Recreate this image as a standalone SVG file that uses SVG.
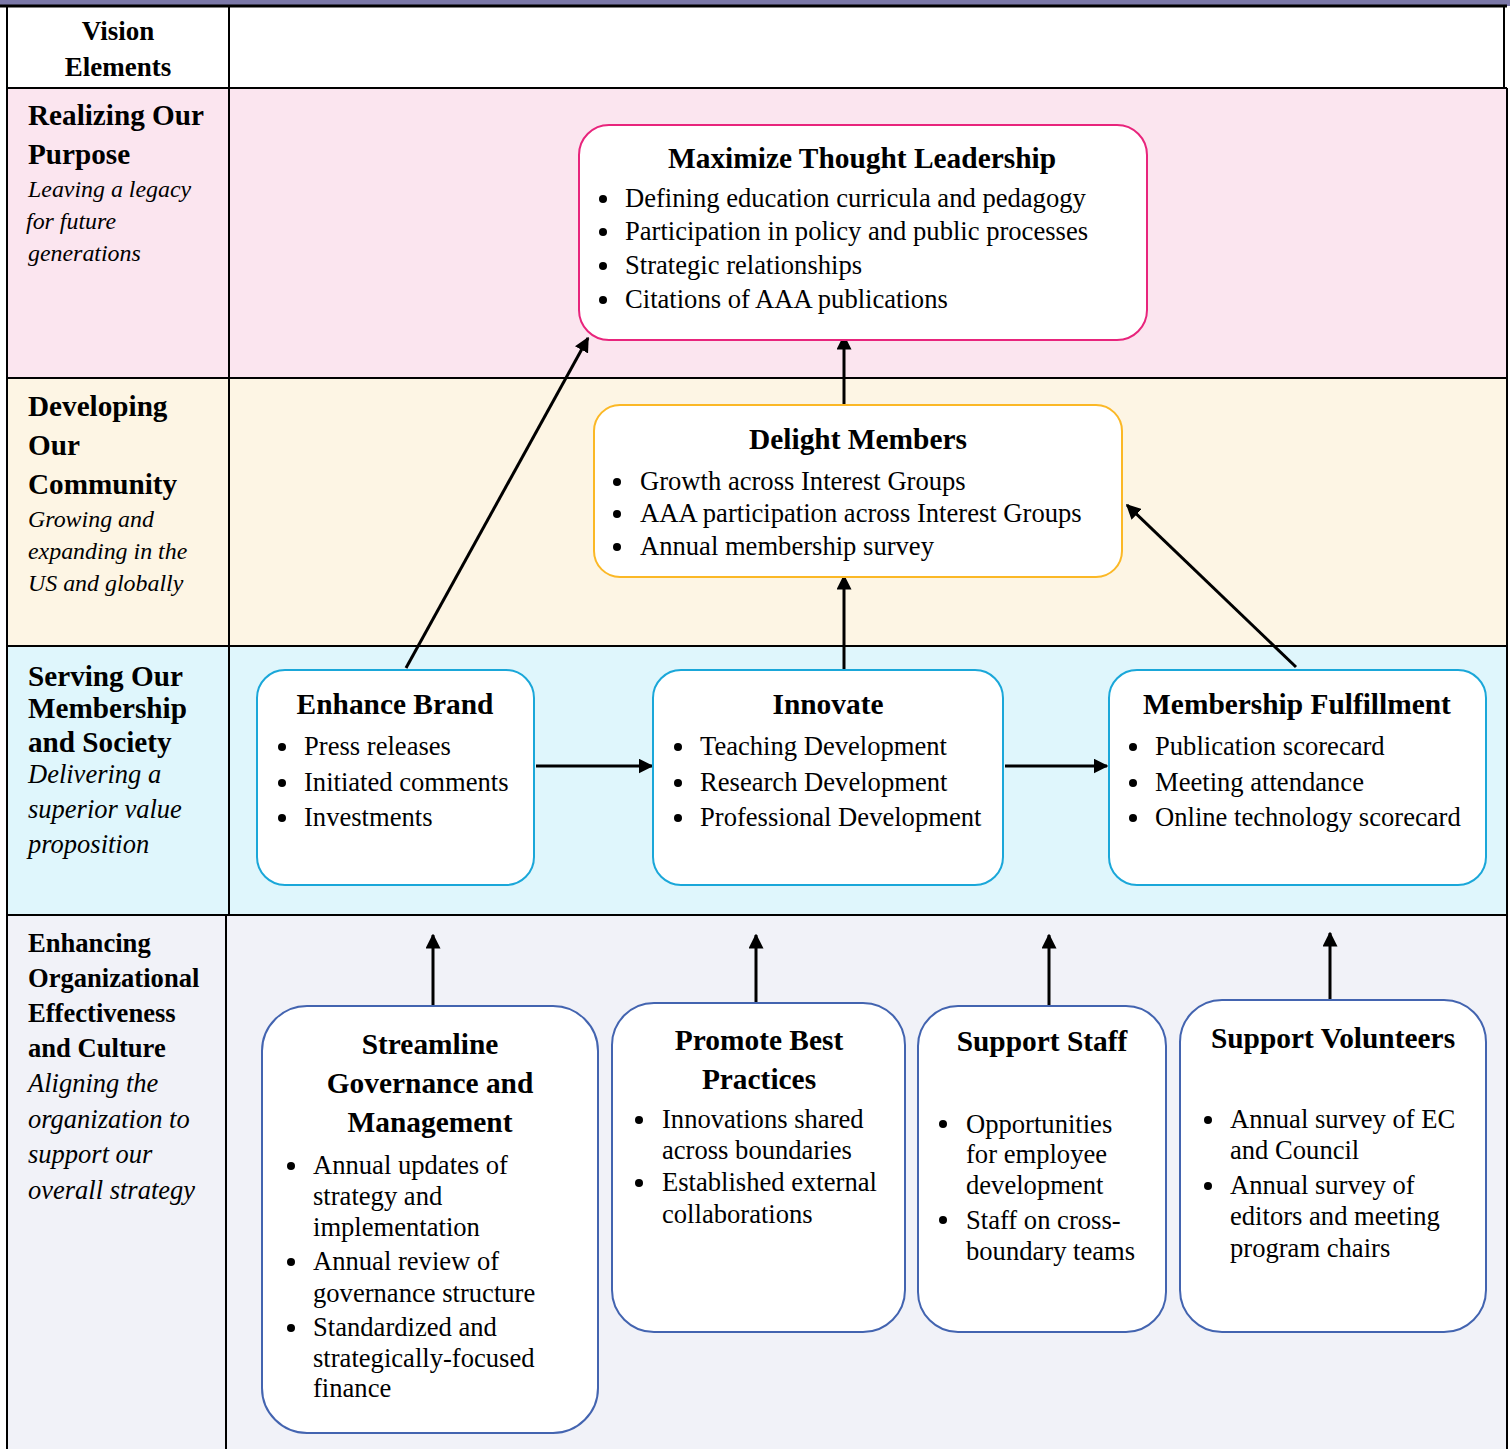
<svg xmlns="http://www.w3.org/2000/svg" width="1510" height="1449" viewBox="0 0 1510 1449">
<defs>
<marker id="ah" viewBox="0 0 10 10" refX="9" refY="5" markerWidth="5" markerHeight="5" orient="auto" markerUnits="strokeWidth">
<path d="M0,0 L10,5 L0,10 Z" fill="#000"/>
</marker>
<style>
text{font-family:"Liberation Serif","Times New Roman",serif;fill:#000}
.hd{font-weight:bold;font-size:27px}
.lt{font-weight:bold;font-size:29.2px}
.lt4{font-weight:bold;font-size:26.6px}
.li{font-style:italic;font-size:23.9px}
.li4{font-style:italic;font-size:26.5px}
.ttl{font-weight:bold;font-size:29.4px;text-anchor:middle}
.b{font-size:26.6px}
.grid{stroke:#000;stroke-width:2;fill:none}
.n1{fill:#fff;stroke:#e8247c;stroke-width:2}
.n2{fill:#fff;stroke:#fbb826;stroke-width:2}
.n3{fill:#fff;stroke:#1aa7d9;stroke-width:2}
.n4{fill:#fff;stroke:#4364b0;stroke-width:2}
.c{stroke:#000;stroke-width:3;fill:none;marker-end:url(#ah)}
</style>
</defs>
<g id="background">
<rect x="0" y="0" width="1510" height="6" fill="#7b78a8"/>
<rect x="7" y="6" width="1497" height="82" fill="#fff"/>
<rect x="7" y="88" width="1500" height="290" fill="#fbe5ef"/>
<rect x="7" y="378" width="1500" height="268" fill="#fdf5e4"/>
<rect x="7" y="646" width="1500" height="269" fill="#dff6fc"/>
<rect x="7" y="915" width="1500" height="534" fill="#f1f2f8"/>
<line x1="0" y1="6" x2="1507" y2="6" stroke="#000" stroke-width="3"/>
<line x1="7" y1="6" x2="7" y2="1449" class="grid"/>
<line x1="1504" y1="6" x2="1504" y2="88" class="grid"/>
<line x1="1507" y1="88" x2="1507" y2="1449" class="grid"/>
<line x1="7" y1="88" x2="1507" y2="88" class="grid"/>
<line x1="7" y1="378" x2="1507" y2="378" class="grid"/>
<line x1="7" y1="646" x2="1507" y2="646" class="grid"/>
<line x1="7" y1="915" x2="1507" y2="915" class="grid"/>
<line x1="229" y1="6" x2="229" y2="915" class="grid"/>
<line x1="226" y1="915" x2="226" y2="1449" class="grid"/>
</g>
<g id="row-labels">
<text class="hd" x="118" y="40" text-anchor="middle">Vision</text>
<text class="hd" x="118" y="76" text-anchor="middle">Elements</text>
<text class="lt" x="28" y="125">Realizing Our</text>
<text class="lt" x="28" y="164">Purpose</text>
<text class="li" x="28" y="197">Leaving a legacy</text>
<text class="li" x="26" y="229">for future</text>
<text class="li" x="28" y="261">generations</text>
<text class="lt" x="28" y="416">Developing</text>
<text class="lt" x="28" y="455">Our</text>
<text class="lt" x="28" y="494">Community</text>
<text class="li" x="28" y="527">Growing and</text>
<text class="li" x="28" y="559">expanding in the</text>
<text class="li" x="28" y="591">US and globally</text>
<text class="lt" x="28" y="686">Serving Our</text>
<text class="lt" x="28" y="718">Membership</text>
<text class="lt" x="28" y="752">and Society</text>
<text class="li4" x="28" y="783">Delivering a</text>
<text class="li4" x="28" y="818">superior value</text>
<text class="li4" x="28" y="853">proposition</text>
<text class="lt4" x="28" y="952">Enhancing</text>
<text class="lt4" x="28" y="987">Organizational</text>
<text class="lt4" x="28" y="1022">Effectiveness</text>
<text class="lt4" x="28" y="1057">and Culture</text>
<text class="li4" x="28" y="1092">Aligning the</text>
<text class="li4" x="28" y="1128">organization to</text>
<text class="li4" x="28" y="1163">support our</text>
<text class="li4" x="28" y="1199">overall strategy</text>
</g>
<g id="connectors">
<line class="c" x1="406" y1="668" x2="588" y2="338"/>
<line class="c" x1="844" y1="405" x2="844" y2="336"/>
<line class="c" x1="844" y1="669" x2="844" y2="576"/>
<line class="c" x1="1296" y1="667" x2="1127" y2="505"/>
<line class="c" x1="536" y1="766" x2="652" y2="766"/>
<line class="c" x1="1005" y1="766" x2="1107" y2="766"/>
<line class="c" x1="433" y1="1005" x2="433" y2="935"/>
<line class="c" x1="756" y1="1004" x2="756" y2="935"/>
<line class="c" x1="1049" y1="1006" x2="1049" y2="935"/>
<line class="c" x1="1330" y1="1002" x2="1330" y2="933"/>
</g>
<g id="maximize-thought-leadership">
<rect class="n1" x="579" y="125" width="568" height="215" rx="30"/>
<text class="ttl" x="862" y="168">Maximize Thought Leadership</text>
<circle cx="603" cy="199" r="4"/><text class="b" x="625" y="207">Defining education curricula and pedagogy</text>
<circle cx="603" cy="232" r="4"/><text class="b" x="625" y="240">Participation in policy and public processes</text>
<circle cx="603" cy="266" r="4"/><text class="b" x="625" y="274">Strategic relationships</text>
<circle cx="603" cy="300" r="4"/><text class="b" x="625" y="308">Citations of AAA publications</text>
</g>
<g id="delight-members">
<rect class="n2" x="594" y="405" width="528" height="172" rx="26"/>
<text class="ttl" x="858" y="449">Delight Members</text>
<circle cx="617" cy="482" r="4"/><text class="b" x="640" y="490">Growth across Interest Groups</text>
<circle cx="617" cy="514" r="4"/><text class="b" x="640" y="522">AAA participation across Interest Groups</text>
<circle cx="617" cy="547" r="4"/><text class="b" x="640" y="555">Annual membership survey</text>
</g>
<g id="enhance-brand">
<rect class="n3" x="257" y="670" width="277" height="215" rx="28"/>
<text class="ttl" x="395" y="714">Enhance Brand</text>
<circle cx="282" cy="747" r="4"/><text class="b" x="304" y="755">Press releases</text>
<circle cx="282" cy="783" r="4"/><text class="b" x="304" y="791">Initiated comments</text>
<circle cx="282" cy="818" r="4"/><text class="b" x="304" y="826">Investments</text>
</g>
<g id="innovate">
<rect class="n3" x="653" y="670" width="350" height="215" rx="28"/>
<text class="ttl" x="828" y="714">Innovate</text>
<circle cx="678" cy="747" r="4"/><text class="b" x="700" y="755">Teaching Development</text>
<circle cx="678" cy="783" r="4"/><text class="b" x="700" y="791">Research Development</text>
<circle cx="678" cy="818" r="4"/><text class="b" x="700" y="826">Professional Development</text>
</g>
<g id="membership-fulfillment">
<rect class="n3" x="1109" y="670" width="377" height="215" rx="28"/>
<text class="ttl" x="1297" y="714">Membership Fulfillment</text>
<circle cx="1133" cy="747" r="4"/><text class="b" x="1155" y="755">Publication scorecard</text>
<circle cx="1133" cy="783" r="4"/><text class="b" x="1155" y="791">Meeting attendance</text>
<circle cx="1133" cy="818" r="4"/><text class="b" x="1155" y="826">Online technology scorecard</text>
</g>
<g id="streamline-governance">
<rect class="n4" x="262" y="1006" width="336" height="427" rx="45"/>
<text class="ttl" x="430" y="1054">Streamline</text>
<text class="ttl" x="430" y="1093">Governance and</text>
<text class="ttl" x="430" y="1132">Management</text>
<circle cx="291" cy="1166" r="4"/><text class="b" x="313" y="1174">Annual updates of</text>
<text class="b" x="313" y="1205">strategy and</text>
<text class="b" x="313" y="1236">implementation</text>
<circle cx="291" cy="1262" r="4"/><text class="b" x="313" y="1270">Annual review of</text>
<text class="b" x="313" y="1302">governance structure</text>
<circle cx="291" cy="1328" r="4"/><text class="b" x="313" y="1336">Standardized and</text>
<text class="b" x="313" y="1367">strategically-focused</text>
<text class="b" x="313" y="1397">finance</text>
</g>
<g id="promote-best-practices">
<rect class="n4" x="612" y="1003" width="293" height="329" rx="42"/>
<text class="ttl" x="759" y="1050">Promote Best</text>
<text class="ttl" x="759" y="1089">Practices</text>
<circle cx="639" cy="1120" r="4"/><text class="b" x="662" y="1128">Innovations shared</text>
<text class="b" x="662" y="1159">across boundaries</text>
<circle cx="639" cy="1183" r="4"/><text class="b" x="662" y="1191">Established external</text>
<text class="b" x="662" y="1223">collaborations</text>
</g>
<g id="support-staff">
<rect class="n4" x="918" y="1006" width="248" height="326" rx="40"/>
<text class="ttl" x="1042" y="1051">Support Staff</text>
<circle cx="943" cy="1124" r="4"/><text class="b" x="966" y="1133">Opportunities</text>
<text class="b" x="966" y="1163">for employee</text>
<text class="b" x="966" y="1194">development</text>
<circle cx="943" cy="1220" r="4"/><text class="b" x="966" y="1229">Staff on cross-</text>
<text class="b" x="966" y="1260">boundary teams</text>
</g>
<g id="support-volunteers">
<rect class="n4" x="1180" y="1000" width="306" height="332" rx="42"/>
<text class="ttl" x="1333" y="1048">Support Volunteers</text>
<circle cx="1208" cy="1120" r="4"/><text class="b" x="1230" y="1128">Annual survey of EC</text>
<text class="b" x="1230" y="1159">and Council</text>
<circle cx="1208" cy="1186" r="4"/><text class="b" x="1230" y="1194">Annual survey of</text>
<text class="b" x="1230" y="1225">editors and meeting</text>
<text class="b" x="1230" y="1257">program chairs</text>
</g>
</svg>
